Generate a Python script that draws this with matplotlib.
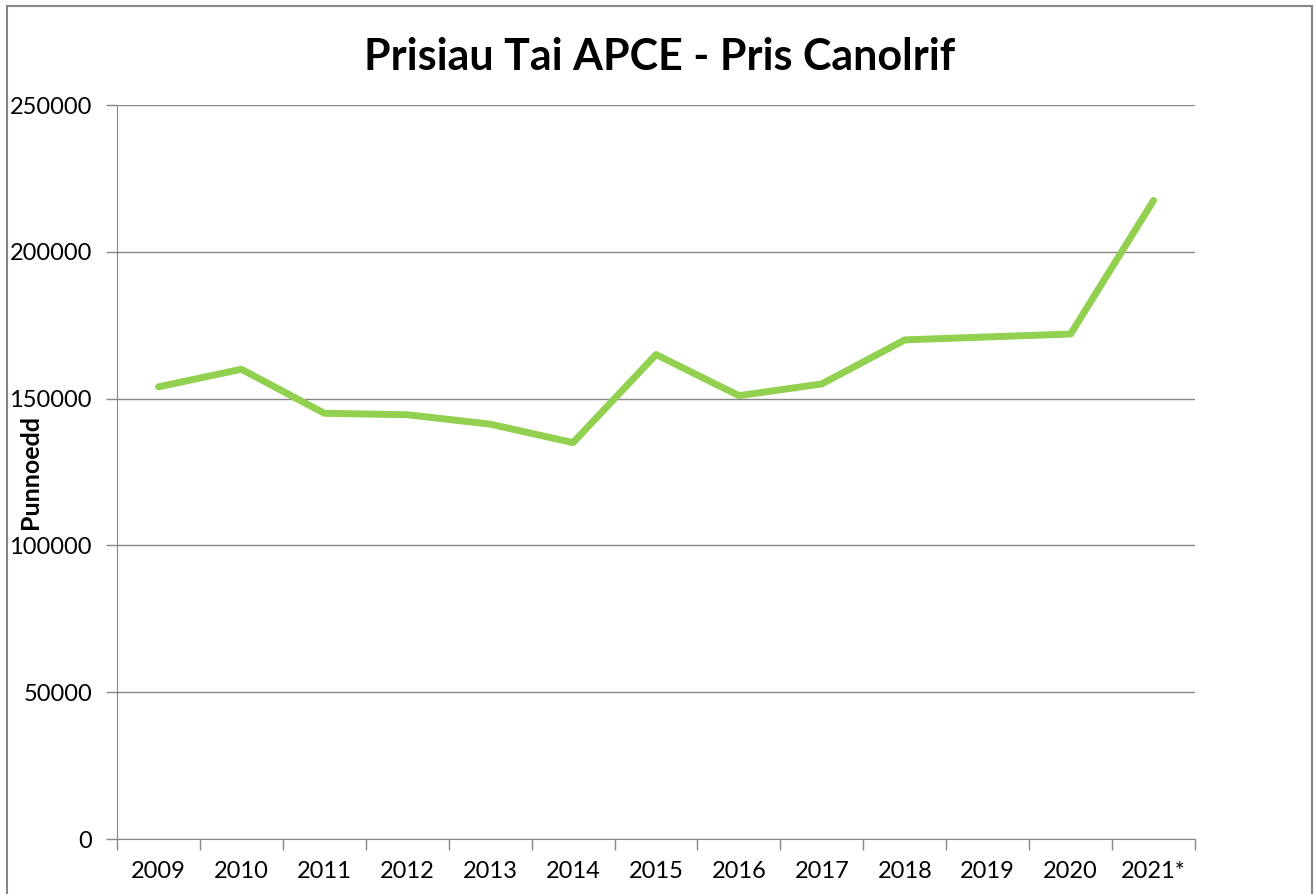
import matplotlib.pyplot as plt
import matplotlib.ticker as ticker
from matplotlib.patches import Rectangle
import numpy as np

# === Données ===
years = ["2009", "2010", "2011", "2012", "2013", "2014", "2015",
         "2016", "2017", "2018", "2019", "2020", "2021*"]
prices = [154000, 160000, 145000, 144500, 141300, 135000, 165000,
          151000, 155000, 170000, 171000, 172000, 217500]

plt.rcParams['font.family'] = ['Lato', 'DejaVu Sans']
grey = '#868686'

fig = plt.figure(figsize=(13.15, 8.94), dpi=100)
fig.patches.append(Rectangle((7 / 1315, -0.1), (1312 - 7) / 1315, 1.1 - 6 / 894,
                             transform=fig.transFigure, fill=False,
                             edgecolor=grey, linewidth=1.5))

ax = fig.add_axes([117 / 1315, 1 - 839 / 894, (1195 - 117) / 1315, (839 - 105) / 894])

x = np.arange(len(years))
ax.plot(x, prices, color='#92D050', linewidth=5, solid_capstyle='round',
        solid_joinstyle='round', zorder=3)

ax.set_xlim(-0.5, len(years) - 0.5)
ax.set_ylim(0, 250000)
ax.yaxis.set_major_locator(ticker.MultipleLocator(50000))
ax.grid(axis='y', color=grey, linewidth=1)
ax.set_axisbelow(True)

ax.set_xticks(x)
ax.set_xticklabels(years)
ax.set_xticks(np.arange(-0.5, len(years)), minor=True)
ax.tick_params(axis='x', which='major', length=0, pad=16, labelsize=17)
ax.tick_params(axis='x', which='minor', length=8, color=grey, width=1)
ax.tick_params(axis='y', length=8, color=grey, width=1, pad=10, labelsize=17)

for side in ['top', 'right']:
    ax.spines[side].set_visible(False)
for side in ['left', 'bottom']:
    ax.spines[side].set_color(grey)

fig.text(30 / 1315, 1 - 472 / 894, "Punnoedd", rotation=90, fontsize=18,
         fontweight='bold', ha='center', va='center')
fig.text(660 / 1315, 1 - 57 / 894, "Prisiau Tai APCE - Pris Canolrif",
         fontsize=31, fontweight='bold', ha='center', va='center')

fig.savefig("out.png", dpi=100)
